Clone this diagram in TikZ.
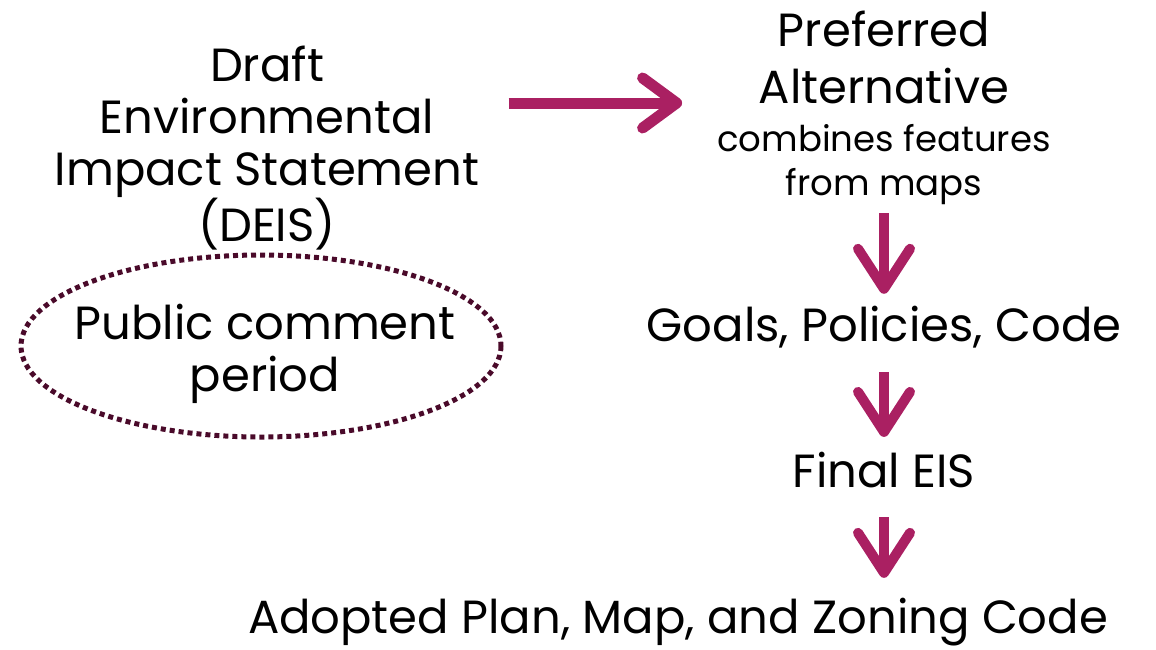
\documentclass[tikz,border=0pt]{standalone}
\usepackage{fontspec}
\setmainfont{Poppins}
\usetikzlibrary{arrows.meta}
\definecolor{plum}{RGB}{170,32,98}
\definecolor{darkplum}{RGB}{74,10,42}
\newcommand{\smalltext}{\fontsize{35.5}{45}\selectfont}
\tikzset{
  big/.style={font=\fontsize{46.5}{52}\selectfont,align=center,inner sep=0pt},
  flow/.style={plum,line width=11pt,-{Straight Barb[length=34pt,width=50pt,round]}},
  down/.style={plum,line width=10pt,-{Straight Barb[length=40pt,width=52pt,round]}}
}
\begin{document}
\begin{tikzpicture}[x=1pt,y=-1pt]
\useasboundingbox (0,0) rectangle (1156,649);
\node[big] (deis) at (267,148) {Draft\\Environmental\\Impact Statement\\(DEIS)};
\node[big] (pref) at (884,108) {Preferred\\[5pt]Alternative\\[-4pt]{\smalltext combines features}\\[-8pt]{\smalltext from maps}};
\node[big] (goals) at (884,327) {Goals, Policies, Code};
\node[big] (final) at (884,470) {Final EIS};
\node[big] (adopted) at (678,622) {Adopted Plan, Map, and Zoning Code};
\node[big] (comment) at (265,354) {Public comment\\period};
\draw[darkplum,line width=5pt,dash pattern=on 5pt off 4pt] (261,346) ellipse [x radius=240,y radius=91];
% arrows
\draw[flow,shorten <=29pt,shorten >=35pt] (deis.east |- 0,103) -- (pref.west |- 0,103);
\draw[down,shorten <=8pt,shorten >=12pt] (pref.south) -- (goals.north);
\draw[down,shorten <=24pt,shorten >=15pt] (goals.south) -- (final.north);
\draw[down,shorten <=29pt,shorten >=20pt] (final.south) -- (final.south |- adopted.north);
\end{tikzpicture}
\end{document}
